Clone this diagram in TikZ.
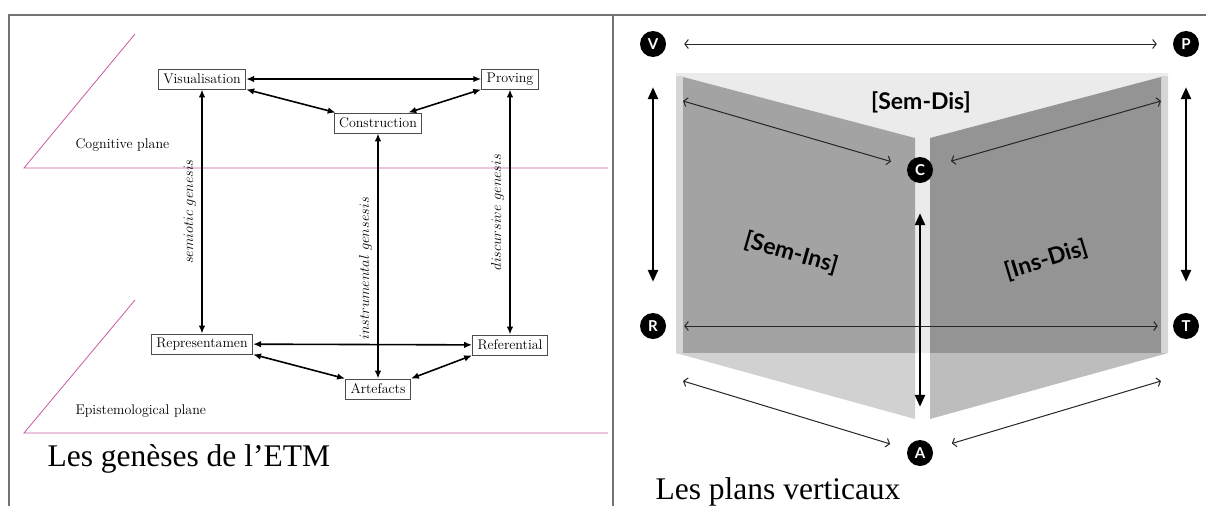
\documentclass[tikz,border=0pt]{standalone}
\usepackage{fontspec}
\newfontfamily\capfont{Liberation Serif}
\newfontfamily\labfont{Lato}
\usetikzlibrary{arrows.meta}
\definecolor{planecol}{HTML}{C85AA2}
\definecolor{framecol}{HTML}{727272}
\tikzset{
    genbox/.style={draw=black!70,line width=0.8pt,fill=white,inner xsep=5pt,inner ysep=0pt,
        minimum height=20pt,font=\fontsize{14}{15}\selectfont},
    genarr/.style={{Latex[length=8pt,width=6.5pt]}-{Latex[length=8pt,width=6.5pt]},line width=1.6pt},
    genlab/.style={midway,rotate=90,above=2pt,font=\fontsize{14}{15}\selectfont},
    planeline/.style={draw=planecol,line width=0.8pt},
    letdot/.style={circle,fill=black,text=white,minimum size=26pt,inner sep=0pt,
        font=\labfont\bfseries\fontsize{15}{15}\selectfont},
    thinarr/.style={{Straight Barb[length=3.5pt,width=9pt]}-{Straight Barb[length=3.5pt,width=9pt]},
        line width=1pt,draw=black!85},
    thickarr/.style={{Triangle[length=12pt,width=10pt]}-{Triangle[length=12pt,width=10pt]},line width=2.5pt},
    planelab/.style={font=\labfont\bfseries\fontsize{23}{23}\selectfont},
    caption/.style={anchor=west,font=\capfont\fontsize{31.5}{34}\selectfont}
}
\begin{document}
\begin{tikzpicture}[x=1pt,y=-1pt]
    \useasboundingbox (0,0) rectangle (1206,506);
    %Cadre
    \draw[framecol,line width=1.5pt] (9,506) -- (9,15) -- (1206,15);
    \draw[framecol,line width=1.5pt] (613,15) -- (613,506);

    %Plans cognitif et epistemologique
    \draw[planeline] (135,34) -- (24,168) -- (608,168);
    \draw[planeline] (135,300) -- (24,433) -- (608,433);
    \node[anchor=west,font=\fontsize{14}{15}\selectfont] (cogn) at (72,145) {Cognitive plane};
    \node[anchor=west,font=\fontsize{14}{15}\selectfont] (epis) at (72,411) {Epistemological plane};

    %Poles
    \node[genbox] (vis) at (202,79) {Visualisation};
    \node[genbox] (prov) at (510,79) {Proving};
    \node[genbox] (cons) at (378,123) {Construction};
    \node[genbox] (repr) at (202,344) {Representamen};
    \node[genbox] (refe) at (510,345) {Referential};
    \node[genbox] (arte) at (378,389) {Artefacts};

    \draw[genarr] (vis) -- (prov);
    \draw[genarr] (vis.south east) -- ([xshift=2pt]cons.north west);
    \draw[genarr] ([xshift=-14pt]cons.north east) -- (prov.south west);
    \draw[genarr] (repr) -- (refe);
    \draw[genarr] (repr.south east) -- (arte.north west);
    \draw[genarr] (arte.north east) -- (refe.south west);

    %Geneses
    \draw[genarr] (vis) -- (repr) node[genlab] {$semiotic\ genesis$};
    \draw[genarr] (cons) -- (arte) node[genlab,pos=0.55] {$instrumental\ gensesis$};
    \draw[genarr] (prov) -- (refe) node[genlab] {$discursive\ genesis$};

    \node[caption] (capa) at (44,459) {Les genèses de l’ETM};

    %Plans verticaux
    \fill[black!8] (676,73) rectangle (1168,353);
    \fill[black!16] (676,76) rectangle (683,353) (1161,76) rectangle (1168,353);
    \fill[black!36] (683,77) -- (915,138) -- (915,353) -- (683,353) -- cycle;
    \fill[black!42] (930,138) -- (1161,77) -- (1161,353) -- (930,353) -- cycle;
    \fill[black!18] (676,353) -- (915,353) -- (915,419) -- cycle;
    \fill[black!26] (930,353) -- (1168,353) -- (930,419) -- cycle;

    \node[planelab] (semdis) at (921,102) {[Sem-Dis]};
    \node[planelab,rotate=-16] (semins) at (791,253) {[Sem-Ins]};
    \node[planelab,rotate=17] (insdis) at (1046,260) {[Ins-Dis]};

    \foreach \n/\x/\y in {V/653/44,P/1186/44,C/920/170,R/653/326,T/1186/326,A/920/453}{
        \node[letdot] (\n) at (\x,\y) {\n};
    }
    \coordinate (tl) at (683,101);
    \coordinate (tr) at (1161,101);
    \coordinate (bl) at (683,381);
    \coordinate (br) at (1161,381);

    \draw[thinarr,shorten <=18pt,shorten >=16pt] (V) -- (P);
    \draw[thinarr,shorten <=18pt,shorten >=15pt] (R) -- (T);
    \draw[thinarr,shorten >=17pt] (tl) -- (C);
    \draw[thinarr,shorten >=19pt] (tr) -- (C);
    \draw[thinarr,shorten >=18pt] (bl) -- (A);
    \draw[thinarr,shorten >=20pt] (br) -- (A);

    \draw[thickarr,shorten <=30pt,shorten >=31pt] (V) -- (R);
    \draw[thickarr,shorten <=30pt,shorten >=31pt] (P) -- (T);
    \draw[thickarr,shorten <=30pt,shorten >=33pt] (C) -- (A);

    \node[caption] (capb) at (652,492) {Les plans verticaux};
\end{tikzpicture}
\end{document}
